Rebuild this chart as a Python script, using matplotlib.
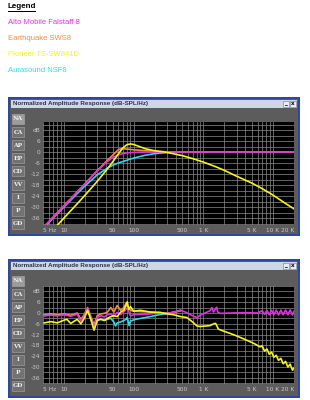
import matplotlib

matplotlib.use("Agg")
import matplotlib.pyplot as plt
from matplotlib.patches import Rectangle
from matplotlib.ticker import NullFormatter

# legend entries (name, colour)
names = ["Alto Mobile Falstaff 8", "Earthquake SWS8", "Pioneer TS-SW841D", "Aurasound NSF8"]
colors = ["#e030e0", "#f08c48", "#f4f420", "#30d8ec"]

# --- top chart: modelled response ---
alto_top_f = [5, 7, 10, 15, 20, 30, 40, 50, 60, 70, 80, 100, 150, 20000]
alto_top_db = [-41.5, -35.5, -29.5, -22.4, -17.4, -10.3, -5.8, -3.0, -1.6, -0.9, -0.5, -0.2, 0, 0]

quake_top_f = [5, 7, 10, 15, 20, 30, 40, 50, 55, 60, 65, 70, 80, 100, 150, 200, 300, 500, 20000]
quake_top_db = [-41.3, -35.5, -29.3, -22.3, -17.3, -10.2, -5.3, -1.8, -0.2, 1.2, 1.7, 1.8, 1.6,
                1.2, 0.7, 0.4, 0.1, 0, 0]

pioneer_top_f = [5, 8, 10, 15, 20, 30, 40, 50, 60, 70, 80, 90, 100, 120, 150, 200, 300, 500,
                 700, 1000, 1500, 2000, 3000, 5000, 7000, 10000, 15000, 20000]
pioneer_top_db = [-48, -40, -36, -28.8, -23.6, -16.0, -10.2, -5.4, -1.1, 2.2, 4.0, 4.4, 4.1, 3.0,
                  1.7, 0.7, -0.2, -2.0, -3.6, -5.5, -8.0, -10.0, -13.2, -17.0, -20.0, -23.5,
                  -28.0, -31.0]

aura_top_f = [5, 7, 10, 15, 20, 30, 40, 50, 60, 80, 100, 150, 200, 300, 500, 20000]
aura_top_db = [-42, -36, -30, -23.2, -18.5, -12.5, -9.3, -7.2, -6.0, -4.5, -3.3, -1.7, -0.9,
               -0.3, 0, 0]

# --- bottom chart: measured response ---
alto_bot_f = [5.2, 6.5, 8, 10, 12.5, 15.5, 17.5, 19.5, 21.8, 24.3, 27, 30, 34, 38, 42, 47, 52,
              58, 65, 72, 81, 90, 100, 125, 175, 240, 300, 380, 470, 580, 700, 810, 900, 1100,
              1250, 1330, 1400, 1550, 1620, 1750, 2500, 4000, 6000,
              7000, 7560, 8165, 8818, 9523, 10285, 11108, 11997, 12957, 13993, 15113, 16322,
              17627, 19037, 20000]
alto_bot_db = [-1.5, -1.2, -1.6, -1.0, -1.8, -0.6, -4.5, -2.0, 2.5, -3.0, -8.0, -2.5, -1.5, -2.2,
               -1.0, -0.5, -1.8, 0.3, -0.8, 0.5, 2.8, -1.5, -1.0, -0.8, -0.5, 0.2, -0.3, 0.5,
               1.5, 0.2, -1.5, -2.6, -1.2, 0.3, 1.3, 3.0, 0.5, 3.2, 0.3, -0.2, 0.0, 0.2, 0.0,
               1.2, -0.8, 1.4, -1.0, 1.5, -1.0, 1.6, -1.1, 1.6, -1.0, 1.7, -1.0, 1.7, -1.2, 1.0]

quake_bot_f = [5.2, 6.5, 8, 10, 12.5, 15.5, 17.5, 19.5, 21.8, 24.3, 27, 30, 34, 38, 42, 47, 52,
               58, 65, 72, 78, 81, 90, 100, 125, 175, 240, 300, 380, 470]
quake_bot_db = [-1.5, -1.0, -1.2, -0.5, -1.2, 0.0, -3.5, -1.0, 3.0, -2.0, -6.5, -1.5, -0.5, -0.2,
                0.5, 3.0, 0.5, 4.2, 1.5, 3.0, 5.5, 3.5, 1.5, 1.0, 0.8, 0.5, 0.2, 0.0, 0.3, 1.2]

pioneer_bot_f = [5.2, 6.5, 8, 10, 11, 12.5, 15.5, 17.5, 19.5, 21.8, 24.3, 27, 30, 34, 38, 42, 47,
                 52, 58, 65, 72, 78, 81, 85, 90, 100, 125, 175, 240, 300, 380, 470, 580, 700, 810,
                 900, 1100, 1250, 1400, 1500, 1650, 2000, 2700, 3500, 4600, 5500, 6500,
                 7000, 7560, 8165, 8818, 9523, 10285, 11108, 11997, 12957, 13993, 15113, 16322,
                 17627, 19037, 20000]
pioneer_bot_db = [-5.5, -4.8, -5.5, -4.0, -3.5, -5.8, -3.5, -6.0, -3.0, 1.5, -3.5, -9.5, -4.0,
                  -3.5, -4.2, -3.0, -2.0, -1.5, -2.0, 0.5, 1.5, 4.5, 6.2, 2.0, 3.5, 1.0, 1.5, 0.5,
                  0.3, -0.5, -1.0, -2.0, -2.5, -5.0, -7.2, -7.5, -7.2, -7.0, -6.0, -5.8, -9.0,
                  -10.2, -12.0, -13.8, -15.8, -17.2, -18.8,
                  -18.3, -21.2, -20.0, -22.9, -21.7, -24.6, -23.5, -26.3, -25.2, -28.2, -26.9,
                  -30.0, -28.4, -31.8, -30.5]

aura_bot_f = [5.2, 6.5, 8, 10, 12.5, 15.5, 17.5, 19.5, 21.8, 24.3, 27, 30, 34, 38, 42, 47, 52, 55,
              58, 65, 72, 78, 81, 86, 90, 100, 125, 175, 240, 300, 380, 470]
aura_bot_db = [-1.0, -0.5, -1.0, -0.8, -1.5, -0.5, -4.0, -2.0, 2.0, -3.5, -9.0, -4.0, -3.5, -4.0,
               -3.5, -3.0, -5.0, -7.2, -5.5, -5.0, -4.2, -3.5, -2.5, -7.0, -4.5, -3.8, -3.0, -2.0,
               -0.8, -0.3, 0.5, 1.5]

side_buttons = ["NA", "CA", "AP", "EP", "CD", "VV", "I", "P", "GD"]
x_ticks = [5, 10, 50, 100, 500, 1000, 5000, 10000, 20000]
x_labels = ["5 Hz", "10", "50", "100", "500", "1 K", "5 K", "10 K", "20 K"]
y_ticks = [12, 6, 0, -6, -12, -18, -24, -30, -36]
y_labels = ["dB", "6", "0", "-6", "-12", "-18", "-24", "-30", "-36"]

W, H = 310, 400
fig = plt.figure(figsize=(W / 100, H / 100), dpi=100)
fig.patch.set_facecolor("white")


def box(x0, y0, x1, y1, **kw):
    fig.add_artist(Rectangle((x0 / W, 1 - y1 / H), (x1 - x0) / W, (y1 - y0) / H,
                             transform=fig.transFigure, zorder=-5, **kw))


def label(x, y, s, **kw):
    fig.text(x / W, 1 - y / H, s, **kw)


# legend block
label(8, 7, "Legend", fontsize=5.8, fontweight="bold", family="Liberation Sans",
      va="center", color="black")
box(8, 11.2, 36, 11.9, color="black", lw=0)
for i, (name, col) in enumerate(zip(names, colors)):
    label(8, 23 + i * 16, name, fontsize=5.5, family="Liberation Sans", va="center", color=col)


def window(top, plot_top, plot_bot, zero_y, px_per6, curves):
    box(8, top, 300, top + 139, color="#2a48a4", lw=0)
    box(10, top + 2, 298, top + 137, color="#5c5c5c", lw=0)
    box(11, top + 2.5, 297, top + 11, color="#cfd6e4", lw=0)
    label(13, top + 7, "Normalized Amplitude Response (dB-SPL/Hz)", fontsize=4.5,
          fontweight="bold", family="Liberation Sans", va="center", color="#2a3550")
    for bx, glyph in [(283, "_"), (290, "x")]:
        box(bx, top + 3.5, bx + 6, top + 10, facecolor="#e8ecf4", edgecolor="#707888", lw=0.4)
        label(bx + 3, top + 6.8, glyph, fontsize=4, fontweight="bold", ha="center",
              va="center", color="black")
    for k, b in enumerate(side_buttons):
        cy = top + 22 + k * 13.1
        fc = "#9c9c9c" if k == 0 else "#727272"
        box(12, cy - 5, 24, cy + 5, facecolor=fc, edgecolor="#a8a8a8", lw=0.4)
        label(18, cy, b, fontsize=4.3, fontweight="bold", family="DejaVu Serif",
              ha="center", va="center", color="#f0f0f0")

    ax = fig.add_axes([43 / W, 1 - plot_bot / H, (294 - 43) / W, (plot_bot - plot_top) / H])
    ax.set_zorder(2)
    ax.set_facecolor("black")
    ax.set_xscale("log")
    ax.set_xlim(5, 20000)
    ax.set_ylim(-(plot_bot - zero_y) / px_per6 * 6, (zero_y - plot_top) / px_per6 * 6)

    minor = [m * 10 ** d for d in range(0, 5) for m in range(1, 10) if 5 <= m * 10 ** d <= 20000]
    ax.set_xticks(minor, minor=True)
    ax.xaxis.set_minor_formatter(NullFormatter())
    ax.set_xticks(x_ticks)
    ax.set_xticklabels(x_labels)
    ax.set_yticks(y_ticks)
    ax.set_yticklabels(y_labels)
    ax.set_yticks(range(-39, 16, 3), minor=True)
    ax.grid(True, which="both", color="#8c8c8c", lw=0.5)
    ax.tick_params(which="both", length=0, labelsize=4.2, colors="#c8c8c8", pad=2)
    ax.tick_params(axis="x", pad=2.5)
    xl = ax.get_xticklabels()
    xl[0].set_ha("left")
    xl[-1].set_ha("right")
    for s in ax.spines.values():
        s.set_visible(False)

    for (f, db), col in curves:
        ax.plot(f, db, color=col, lw=1.2, solid_joinstyle="round")
    return ax


top_curves = [((aura_top_f, aura_top_db), colors[3]),
              ((quake_top_f, quake_top_db), colors[1]),
              ((alto_top_f, alto_top_db), colors[0]),
              ((pioneer_top_f, pioneer_top_db), colors[2])]
bot_curves = [((aura_bot_f, aura_bot_db), colors[3]),
              ((quake_bot_f, quake_bot_db), colors[1]),
              ((alto_bot_f, alto_bot_db), colors[0]),
              ((pioneer_bot_f, pioneer_bot_db), colors[2])]

window(97, 122, 225, 152, 11.0, top_curves)
window(259, 286, 384, 313, 10.8, bot_curves)

fig.savefig("out.png", dpi=100)
